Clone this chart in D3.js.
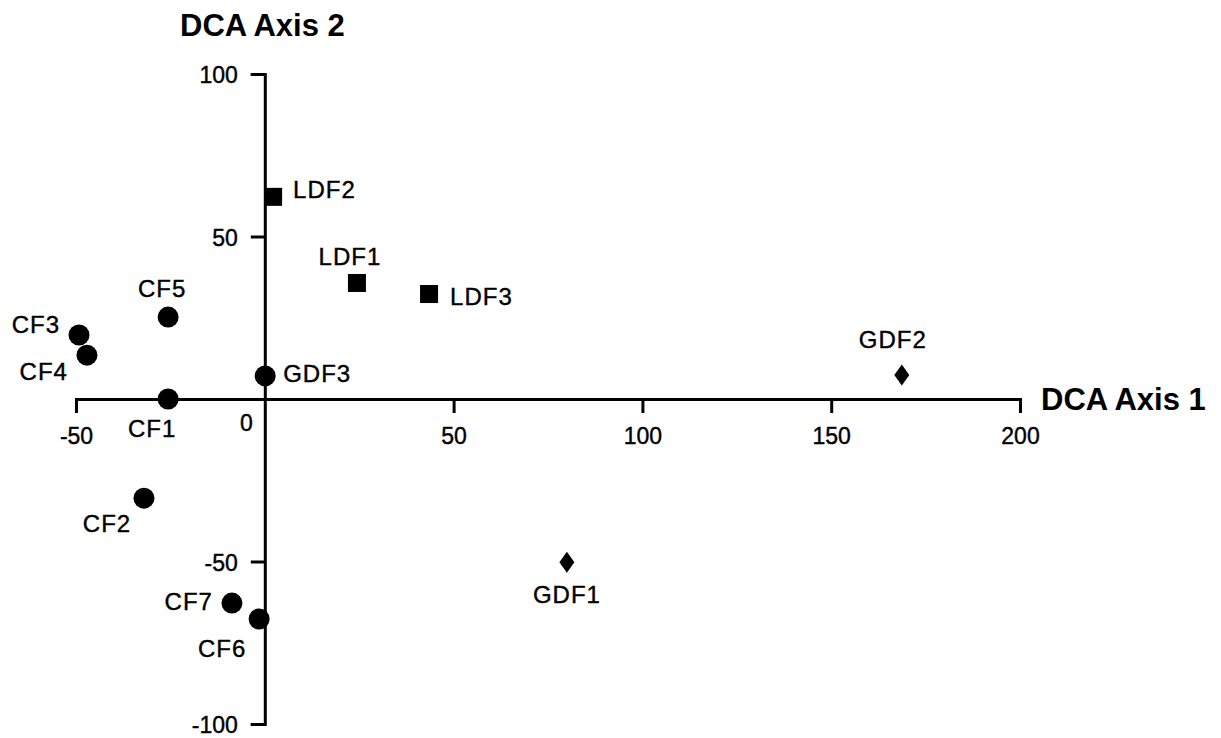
<!DOCTYPE html>
<html>
<head>
  <meta charset="utf-8">
  <title>DCA ordination</title>
  <script src="https://d3js.org/d3.v7.min.js"></script>
  <style>
    body { margin: 0; background: #fff; }
    svg text { font-family: "Liberation Sans", Arial, Helvetica, sans-serif; fill: #000; }
  </style>
</head>
<body>
<script>
  // site names, group and DCA scores
  var sites  = ["CF1", "CF2", "CF3", "CF4", "CF5", "CF6", "CF7",
                "GDF1", "GDF2", "GDF3", "LDF1", "LDF2", "LDF3"]
  var groups = ["CF", "CF", "CF", "CF", "CF", "CF", "CF",
                "GDF", "GDF", "GDFc", "LDF", "LDF", "LDF"]
  var axis1  = [-25.6, -32, -49.2, -47.1, -25.6, -1.5, -8.7, 80, 168.7, 0.1, 24.4, 2.2, 43.5]
  var axis2  = [0, -30.5, 19.7, 13.5, 25.2, -67.7, -62.8, -50.2, 7.4, 7.1, 35.7, 62.2, 32.3]

  var xTicks = [-50, 50, 100, 150, 200]
  var yTicks = [-100, -50, 50, 100]

  var width = 1221, height = 738

  var svg = d3.select("body").append("svg")
      .attr("width", width).attr("height", height)

  var x = d3.scaleLinear().domain([-50, 200]).range([76, 1020])
  var y = d3.scaleLinear().domain([-100, 100]).range([724, 74])

  // plain hyphen for negatives, like the original
  var fmt = function(d) { return String(d) }

  // x axis through origin
  var gx = svg.append("g")
      .attr("transform", "translate(0," + y(0) + ")")
      .call(d3.axisBottom(x).tickValues(xTicks).tickFormat(fmt)
            .tickSize(14).tickSizeOuter(14).tickPadding(15))
  // y axis through origin
  var gy = svg.append("g")
      .attr("transform", "translate(" + x(0) + ",0)")
      .call(d3.axisLeft(y).tickValues(yTicks).tickFormat(fmt)
            .tickSize(14).tickSizeOuter(14).tickPadding(13))

  ;[gx, gy].forEach(function(g) {
    g.selectAll("path, line").attr("stroke", "#000").attr("stroke-width", 3)
    g.selectAll("text").attr("font-size", "23px").attr("fill", "#000")
      .attr("stroke", "#000").attr("stroke-width", 0.4)
  })
  gy.selectAll("text").attr("dy", "0.38em")

  // origin label
  svg.append("text").attr("x", x(0) - 12).attr("y", y(0) + 32)
      .attr("text-anchor", "end").attr("font-size", "23px")
      .attr("stroke", "#000").attr("stroke-width", 0.4).text("0")

  // axis titles
  svg.append("text").attr("x", 180).attr("y", 36)
      .attr("font-size", "31px").attr("font-weight", "bold").text("DCA Axis 2")
  svg.append("text").attr("x", 1041).attr("y", y(0) + 11)
      .attr("font-size", "31px").attr("font-weight", "bold").text("DCA Axis 1")

  var data = sites.map(function(s, i) {
    return {name: s, group: groups[i], a1: axis1[i], a2: axis2[i]}
  })

  // diamond taller than wide
  function diamond(w, h) {
    return "M0," + (-h/2) + "L" + (w/2) + ",0L0," + (h/2) + "L" + (-w/2) + ",0Z"
  }

  var pts = svg.append("g").selectAll("g.pt").data(data).enter().append("g")
      .attr("transform", function(d) { return "translate(" + x(d.a1) + "," + y(d.a2) + ")" })

  pts.filter(function(d) { return d.group == "CF" || d.group == "GDFc" })
      .append("circle").attr("r", 10.5).attr("fill", "#000")
  pts.filter(function(d) { return d.group == "LDF" })
      .append("rect").attr("x", -9).attr("y", -9).attr("width", 18).attr("height", 18).attr("fill", "#000")
  pts.filter(function(d) { return d.group == "GDF" })
      .append("path").attr("d", diamond(15, 21)).attr("fill", "#000")

  // label placement (dx, dy, anchor) per site
  var place = {
    CF1: [-16, 38, "middle"], CF2: [-37, 34, "middle"], CF3: [-19, -2, "end"],
    CF4: [-19, 25, "end"],    CF5: [-6, -20, "middle"], CF6: [-37, 38, "middle"],
    CF7: [-19, 7, "end"],     GDF1: [0, 41, "middle"],  GDF2: [-9, -27, "middle"],
    GDF3: [18, 6, "start"],   LDF1: [-7, -18, "middle"], LDF2: [20, 1, "start"],
    LDF3: [21, 11, "start"]
  }

  pts.append("text")
      .attr("x", function(d) { return place[d.name][0] })
      .attr("y", function(d) { return place[d.name][1] })
      .attr("text-anchor", function(d) { return place[d.name][2] })
      .attr("font-size", "24px")
      .attr("letter-spacing", "1px")
      .attr("stroke", "#000").attr("stroke-width", 0.4)
      .text(function(d) { return d.name })
</script>
</body>
</html>
